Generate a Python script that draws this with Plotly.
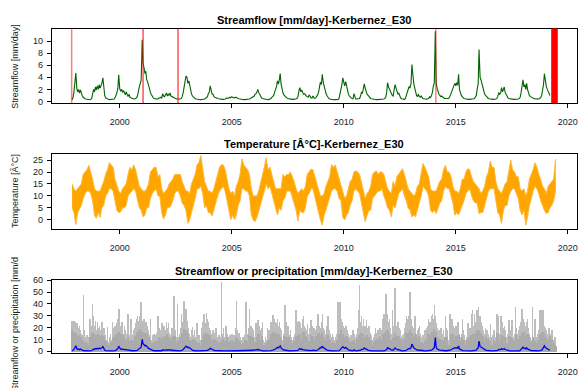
import pandas as pd
import plotly.graph_objects as go

# ---------------- data ----------------
# semi-monthly streamflow [mm/day], 1st and 15th of each month, from 1997-11-15 to 2019-03-15
streamflow = [
    0.3, 0.7, 1.6,
    3.2, 4.7, 2.1, 1.6, 2.0, 1.4, 1.9, 1.2, 0.9, 0.7, 0.5, 0.45, 0.4, 0.35, 0.3, 0.3, 0.3, 0.35, 0.5, 1.2, 2.0, 1.6, 2.4, 1.9,
    2.6, 2.0, 2.8, 2.2, 2.5, 3.0, 3.9, 2.0, 1.0, 0.6, 0.45, 0.4, 0.35, 0.3, 0.3, 0.3, 0.3, 0.3, 0.4, 0.6, 1.0, 1.4, 2.2, 4.4,
    2.1, 1.7, 2.0, 1.5, 1.8, 1.3, 1.1, 1.6, 1.0, 0.8, 1.2, 0.7, 0.6, 0.5, 0.45, 0.4, 0.4, 0.5, 0.6, 0.9, 1.5, 2.4, 3.0, 3.5,
    10.2, 6.3, 5.5, 4.6, 5.0, 3.6, 3.2, 2.5, 2.0, 1.5, 1.1, 0.8, 0.6, 0.5, 0.45, 0.4, 0.4, 0.45, 0.5, 0.6, 0.7, 0.5, 1.3, 0.9,
    0.8, 1.1, 1.4, 0.9, 1.2, 1.0, 1.4, 0.9, 0.8, 0.7, 0.6, 0.5, 0.45, 0.4, 0.4, 0.4, 0.35, 0.4, 0.5, 0.8, 1.5, 2.5, 3.6, 4.2,
    4.0, 3.0, 3.4, 2.6, 1.8, 1.3, 0.9, 0.7, 0.5, 0.45, 0.4, 0.35, 0.3, 0.3, 0.3, 0.3, 0.3, 0.3, 0.35, 0.4, 0.5, 0.6, 0.8, 1.3,
    1.6, 2.6, 1.9, 1.2, 1.2, 0.8, 0.7, 0.6, 0.5, 0.5, 0.45, 0.4, 0.4, 0.35, 0.35, 0.35, 0.35, 0.4, 0.5, 0.6, 0.5, 0.6, 0.7, 0.6,
    0.8, 0.7, 0.6, 0.6, 0.7, 0.6, 0.5, 0.5, 0.45, 0.4, 0.4, 0.35, 0.35, 0.3, 0.3, 0.3, 0.3, 0.3, 0.35, 0.4, 0.5, 0.6, 0.7, 0.8,
    0.9, 1.2, 1.3, 1.6, 2.0, 1.5, 1.1, 0.8, 0.6, 0.5, 0.45, 0.4, 0.35, 0.3, 0.3, 0.3, 0.35, 0.4, 0.5, 0.7, 0.8, 1.0, 1.6, 2.0,
    2.5, 3.4, 2.9, 3.6, 4.6, 2.9, 1.8, 1.4, 1.1, 0.9, 0.7, 0.6, 0.5, 0.45, 0.45, 0.4, 0.4, 0.35, 0.35, 0.35, 0.4, 0.45, 0.5, 0.8,
    1.8, 2.3, 1.6, 1.9, 1.5, 1.2, 1.3, 1.0, 0.9, 0.8, 0.7, 1.1, 0.7, 0.6, 0.6, 0.9, 0.6, 0.5, 0.6, 0.8, 1.1, 1.5, 2.4, 3.2,
    2.8, 4.5, 3.1, 2.4, 2.1, 1.4, 1.0, 0.7, 0.5, 0.4, 0.35, 0.3, 0.3, 0.3, 0.3, 0.3, 0.3, 0.3, 0.35, 0.5, 1.2, 2.2, 2.8, 3.9,
    3.0, 2.6, 3.3, 2.4, 2.0, 1.3, 0.9, 0.7, 0.6, 0.5, 0.45, 1.3, 0.5, 0.4, 0.4, 0.4, 0.4, 0.5, 0.9, 1.5, 1.4, 2.0, 2.9, 2.2,
    1.6, 1.2, 1.0, 0.8, 0.6, 0.5, 0.45, 0.4, 0.4, 0.35, 0.35, 0.3, 0.3, 0.3, 0.3, 0.3, 0.3, 0.3, 0.35, 0.4, 0.5, 0.7, 1.5, 3.1,
    2.4, 2.0, 1.5, 1.2, 1.0, 0.9, 1.8, 2.8, 2.2, 1.6, 1.2, 1.4, 0.9, 0.6, 0.45, 0.4, 0.35, 0.35, 0.5, 0.9, 1.5, 2.0, 2.5, 2.2,
    3.0, 6.1, 3.4, 2.9, 2.3, 1.6, 1.0, 0.8, 1.2, 0.8, 0.7, 0.9, 0.6, 0.5, 0.45, 0.4, 0.4, 0.4, 0.45, 0.5, 0.8, 0.6, 1.0, 1.5,
    2.6, 3.0, 11.6, 3.2, 2.2, 1.5, 1.2, 1.0, 0.8, 0.9, 0.7, 0.6, 0.5, 0.5, 0.5, 0.45, 0.5, 0.6, 0.9, 1.3, 1.8, 2.2, 2.4, 3.0,
    2.6, 3.1, 2.7, 4.5, 2.0, 1.4, 1.0, 0.8, 0.6, 0.5, 0.45, 0.4, 0.4, 0.35, 0.35, 0.35, 0.35, 0.4, 0.4, 0.45, 0.5, 0.7, 1.0, 2.0,
    3.0, 8.6, 4.0, 3.6, 3.0, 2.2, 1.6, 1.2, 1.0, 0.8, 0.6, 0.5, 0.45, 0.4, 0.4, 0.35, 0.35, 0.35, 0.35, 0.4, 0.5, 0.8, 1.5, 1.2,
    1.4, 2.3, 1.6, 2.0, 2.4, 1.5, 1.1, 0.8, 0.6, 0.5, 0.45, 0.4, 0.35, 0.35, 0.35, 0.35, 0.35, 0.35, 0.35, 0.4, 0.5, 0.7, 1.5, 2.6,
    3.6, 2.4, 2.8, 2.0, 3.0, 2.0, 1.4, 1.0, 0.8, 0.7, 0.6, 0.5, 0.45, 0.45, 0.4, 0.4, 0.4, 0.45, 0.5, 0.6, 1.0, 1.8, 2.8, 4.6,
    3.2, 2.5, 2.0, 1.6, 1.3, 1.0,
]

# semi-monthly highest daily precipitation [mm/day], from 1997-11-15 to 2019-06-15
precip_peak = [
    26, 24, 26,
    25, 22, 24, 12, 20, 22, 18, 15, 14, 48, 18, 12, 10, 14, 8, 12, 28, 20, 22, 40, 30, 22, 26, 18,
    25, 20, 22, 18, 17, 25, 15, 20, 12, 14, 10, 21, 8, 12, 15, 10, 25, 18, 20, 22, 18, 24, 28, 36,
    22, 18, 25, 20, 15, 22, 18, 12, 15, 32, 12, 14, 28, 14, 12, 18, 20, 24, 28, 30, 26, 30, 28, 42,
    26, 24, 28, 20, 25, 22, 18, 15, 14, 28, 10, 14, 12, 15, 10, 14, 16, 30, 20, 18, 15, 24, 20, 22,
    22, 18, 25, 20, 24, 16, 14, 12, 20, 18, 47, 18, 12, 10, 40, 12, 15, 20, 32, 25, 30, 43, 28, 36,
    26, 20, 15, 10, 12, 18, 21, 14, 18, 12, 10, 24, 10, 14, 8, 10, 20, 25, 32, 28, 24, 33, 28, 25,
    20, 18, 15, 12, 18, 16, 14, 20, 12, 10, 14, 8, 12, 59, 15, 20, 12, 18, 22, 15, 12, 10, 14, 12,
    15, 12, 14, 10, 20, 43, 18, 14, 16, 12, 10, 8, 12, 10, 14, 42, 12, 15, 20, 36, 22, 22, 20, 18,
    12, 10, 24, 20, 27, 22, 15, 18, 20, 25, 10, 8, 12, 10, 20, 15, 18, 14, 25, 22, 31, 28, 25, 20,
    24, 28, 22, 25, 20, 18, 10, 8, 15, 39, 25, 18, 22, 15, 14, 18, 12, 10, 12, 15, 20, 35, 25, 22,
    26, 24, 20, 15, 28, 30, 22, 20, 18, 23, 15, 12, 20, 27, 22, 18, 20, 15, 18, 22, 32, 25, 22, 20,
    25, 32, 20, 18, 15, 12, 22, 30, 18, 15, 12, 10, 15, 12, 10, 12, 15, 18, 42, 20, 42, 28, 25, 22,
    20, 18, 22, 20, 18, 15, 12, 10, 14, 12, 18, 15, 10, 12, 15, 20, 35, 56, 25, 30, 22, 28, 20, 22,
    27, 20, 18, 22, 16, 14, 10, 8, 12, 15, 20, 16, 14, 18, 15, 20, 18, 15, 28, 32, 30, 49, 30, 32,
    25, 28, 20, 15, 35, 18, 22, 54, 22, 18, 25, 20, 15, 18, 12, 14, 15, 20, 24, 30, 28, 25, 30, 50,
    28, 22, 20, 18, 30, 20, 15, 18, 20, 22, 15, 12, 10, 14, 12, 18, 15, 20, 22, 28, 25, 22, 30, 32,
    28, 39, 30, 24, 20, 15, 18, 14, 20, 15, 12, 18, 12, 30, 20, 18, 10, 8, 32, 25, 28, 22, 20, 18,
    22, 20, 25, 18, 15, 12, 15, 28, 18, 14, 10, 8, 12, 24, 20, 18, 20, 32, 35, 22, 32, 25, 30, 35,
    38, 28, 30, 25, 22, 18, 15, 12, 20, 18, 18, 15, 12, 23, 8, 12, 14, 18, 10, 12, 32, 30, 15, 12,
    30, 22, 25, 20, 22, 18, 10, 12, 15, 27, 18, 15, 27, 18, 12, 15, 38, 20, 15, 18, 22, 20, 25, 36,
    28, 25, 22, 18, 25, 28, 20, 15, 12, 10, 38, 12, 8, 28, 12, 10, 15, 18, 35, 25, 35, 30, 35, 22,
    20, 18, 15, 12, 20, 15, 12, 18, 10, 8, 12, 6,
]

# monthly level of the dense precipitation band [mm/day], 1997-11 to 2019-06
precip_base = [
    18, 17,
    16, 12, 14, 12, 10, 8, 7, 6, 12, 16, 15, 14,
    15, 13, 14, 12, 9, 8, 6, 8, 12, 14, 15, 17,
    15, 14, 12, 10, 12, 9, 10, 9, 13, 17, 18, 19,
    17, 16, 16, 12, 10, 7, 8, 9, 10, 12, 11, 12,
    13, 15, 12, 9, 12, 13, 8, 10, 12, 16, 19, 18,
    16, 10, 9, 11, 10, 8, 7, 6, 10, 15, 16, 15,
    14, 10, 11, 10, 8, 7, 9, 11, 9, 12, 8, 9,
    10, 8, 12, 11, 9, 6, 7, 10, 9, 14, 13, 12,
    8, 12, 15, 10, 13, 6, 7, 10, 11, 15, 17, 15,
    16, 15, 12, 6, 13, 12, 12, 10, 7, 9, 13, 14,
    15, 11, 17, 13, 12, 9, 14, 13, 10, 13, 16, 14,
    16, 12, 9, 14, 10, 7, 8, 7, 10, 15, 18, 15,
    12, 13, 11, 8, 9, 10, 7, 11, 14, 16, 15, 12,
    14, 12, 10, 6, 9, 11, 11, 12, 10, 15, 17, 18,
    15, 10, 12, 16, 13, 13, 11, 9, 11, 16, 16, 18,
    16, 12, 15, 11, 13, 8, 7, 9, 11, 15, 14, 17,
    19, 17, 12, 11, 10, 9, 12, 12, 6, 15, 15, 12,
    13, 14, 9, 12, 10, 6, 10, 12, 14, 15, 16, 18,
    18, 16, 13, 9, 12, 11, 9, 6, 10, 8, 16, 9,
    14, 13, 12, 7, 13, 12, 11, 9, 14, 11, 13, 16,
    17, 13, 15, 12, 8, 12, 9, 7, 10, 15, 17, 16,
    12, 10, 13, 11, 7, 5,
]

# monthly upper / lower envelope of daily temperature [deg C], 1997-11 to 2019-06
temp_high = [
    15, 13,
    12, 13, 14, 15, 19, 20, 21, 22.8, 20, 17, 13, 12,
    12, 12, 14, 16, 19, 21, 23.9, 23, 22, 17, 14, 12,
    11, 13, 14, 15, 19, 22, 21, 23, 21, 17, 14, 13,
    12, 12, 13, 15, 20, 21, 22, 22, 18, 19, 13, 11,
    12, 13, 15, 16, 17, 19, 19, 19, 19, 16, 14, 12,
    12, 11, 15, 17, 19, 23, 24, 26.9, 21, 16, 14, 12,
    12, 11, 13, 16, 19, 22, 23, 23, 21, 17, 13, 11,
    12, 10, 14, 16, 19, 25.5, 23, 22, 21, 19, 13, 10,
    10, 10, 12, 15, 18, 22, 26, 21, 22, 19, 15, 13,
    13, 13, 13, 19, 18, 19, 19, 20, 18, 16, 13, 11,
    12, 13, 12, 14, 19, 20, 21.2, 21, 18, 15, 12, 10,
    10, 11, 14, 16, 18, 23.2, 22, 23, 20, 17, 14, 11,
    9, 10, 13, 16, 17, 20, 20.5, 20, 19, 16, 12, 9,
    11, 12, 14, 19, 20, 20.5, 19, 20, 20, 19, 16, 13,
    12, 11, 16, 14, 18, 19, 20, 21.4, 19, 16, 13, 12,
    11, 10, 11, 14, 15, 19, 23.6, 22, 20, 18, 13, 12,
    12, 12, 14, 16, 17, 21, 22.8, 20, 20, 18, 14, 12,
    12, 11, 13, 17, 17, 20, 21.4, 21, 18, 16, 15, 14,
    13, 11, 12, 14, 18, 20, 24.6, 22, 22, 16, 13, 12,
    11, 13, 15, 16, 20, 25, 21, 20, 18, 18, 13, 12,
    13, 10, 12, 17, 19, 21, 23.9, 22, 19, 17, 14, 13,
    11, 14, 15, 16, 17, 25.3,
]
temp_low = [
    5, 3,
    -2, 3, 4, 6, 9, 11, 12, 12, 11, 8, 2, 0.6,
    3, 1, 5, 6, 10, 11, 13, 13, 12, 8, 4, 3,
    3.3, 5, 5, 6, 10, 11, 12, 13, 12, 8, 5, 4,
    1.2, 2, 5, 5, 9, 11, 12, 13, 10, 10, 3, 0.3,
    2, 5, 5, 6, 8, 11, 12, 12, 10, 7, 6, 4,
    -1.5, 0, 4, 6, 9, 13, 13, 14, 11, 5, 6, 3,
    3, 1.6, 4, 7, 10, 12, 13, 14, 12, 8, 4, 0,
    2, 0, 2, 6, 8, 13, 13, 12, 12, 10, 2, 0,
    -0.8, 1, 3, 6, 9, 12, 15, 13, 14, 10, 7, 5,
    2, 5, 4, 8, 9, 12, 12, 12, 10, 7, 4, -0.5,
    4, 3, 3, 5, 10, 11, 13, 13, 10, 6, 3, 0,
    -2.2, 2, 4, 7, 9, 12, 13, 13, 12, 9, 8, 1,
    -0.1, 2, 3, 6, 8, 12, 13, 12, 11, 7, 3, -0.8,
    2, 4, 4, 9, 10, 11, 12, 12, 13, 10, 8, 5,
    4, 1.2, 6, 5, 8, 11, 12, 13, 10, 8, 5, 4,
    1.2, 2, 1.2, 5, 7, 10, 14, 13, 12, 10, 4, 3,
    4, 2.6, 5, 7, 8, 12, 14, 13, 13, 10, 7, 1.9,
    3, 2, 4, 6, 8, 11, 12, 13, 10, 8, 7, 7,
    2.6, 3, 3, 5, 9, 12, 13, 13, 13, 8, 3, 2,
    -1.5, 4, 6, 6, 10, 12, 13, 13, 11, 9, 4, 2,
    4, -2.2, 1, 6, 9, 12, 14, 13, 11, 8, 6, 4,
    2.6, 3, 5, 6, 8, 12,
]

# dates marked in red on the streamflow panel
gap_dates = ["1997-11-08", "2001-01-15", "2002-08-08", "2014-02-10"]
gap_band = ["2019-04-05", "2019-07-22"]

x_tick_labels = ["2000", "2005", "2010", "2015", "2020"]
q_ticks = [0, 2, 4, 6, 8, 10]
t_ticks = [0, 5, 10, 15, 20, 25]
p_ticks = [0, 10, 20, 30, 40, 50, 60]

titles = [
    "Streamflow [mm/day]-Kerbernez_E30",
    "Temperature [Â°C]-Kerbernez_E30",
    "Streamflow or precipitation [mm/day]-Kerbernez_E30",
]
ylabels = [
    "Streamflow [mm/day]",
    "Temperature [Â°C]",
    "Streamflow or precipitation [mm/d",
]

# ---------------- figure ----------------
W, H = 579, 388
FONT = "Liberation Sans, Arial, Helvetica, sans-serif"

q_dates = pd.date_range("1997-11-15", periods=len(streamflow), freq="SMS")
p_dates = pd.date_range("1997-11-15", periods=len(precip_peak), freq="SMS")
t_dates = pd.date_range("1997-11-01", periods=len(temp_high), freq="MS") + pd.Timedelta(days=14)
b_dates = pd.date_range("1997-11-01", periods=len(precip_base), freq="MS") + pd.Timedelta(days=14)

DAY = 86400000

fig = go.Figure()

# panel 1 : streamflow
fig.add_trace(go.Scatter(x=q_dates, y=streamflow, mode="lines",
                         line=dict(color="#006400", width=1.1), xaxis="x", yaxis="y",
                         showlegend=False, hoverinfo="skip"))

# panel 2 : temperature envelope
t_x = list(t_dates) + list(t_dates[::-1])
t_y = list(temp_high) + list(temp_low[::-1])
fig.add_trace(go.Scatter(x=t_x, y=t_y, mode="lines", fill="toself",
                         fillcolor="#FFA500", line=dict(color="#FFB833", width=1),
                         xaxis="x2", yaxis="y2", showlegend=False, hoverinfo="skip"))

# panel 3 : precipitation + streamflow
fig.add_trace(go.Bar(x=p_dates, y=precip_peak, width=[9 * DAY] * len(precip_peak),
                     marker=dict(color="#BDBDBD", line=dict(width=0)),
                     xaxis="x3", yaxis="y3", showlegend=False, hoverinfo="skip"))
fig.add_trace(go.Bar(x=b_dates, y=precip_base, width=[30 * DAY] * len(precip_base),
                     marker=dict(color="#ABABAB", line=dict(width=0)),
                     xaxis="x3", yaxis="y3", showlegend=False, hoverinfo="skip"))
fig.add_trace(go.Scatter(x=q_dates, y=streamflow, mode="lines",
                         line=dict(color="#0000FF", width=1.3), xaxis="x3", yaxis="y3",
                         showlegend=False, hoverinfo="skip"))

# red markers on panel 1
gap_colors = ["rgba(255,0,0,0.5)", "#FF0000", "#FF0000", "rgba(255,0,0,0.5)"]
gap_widths = [1.5, 1, 1, 1.5]
for d, c, w in zip(gap_dates, gap_colors, gap_widths):
    fig.add_shape(type="line", xref="x", yref="y domain", x0=d, x1=d, y0=0, y1=1,
                  line=dict(color=c, width=w), layer="above")
fig.add_shape(type="rect", xref="x", yref="y domain", x0=gap_band[0], x1=gap_band[1],
              y0=0, y1=1, fillcolor="#FF0000", line=dict(width=0), layer="above")

# layout geometry (pixels)
x_left, x_right = 52, 577.7
panels = [(25, 101), (152.3, 229), (280.7, 355.7)]   # top, bottom
y_ranges = [[-0.28, 12.06], [-3.83, 27.76], [-1.66, 60.5]]
y_ticks = [q_ticks, t_ticks, p_ticks]
title_y = [16, 143, 272]


def py(v):
    return 1 - v / H


x_domain = [x_left / W, x_right / W]
tick_dates = [f"{t}-01-01" for t in x_tick_labels]
axis_common = dict(showline=True, mirror=True, linecolor="#000000", linewidth=1,
                   ticks="outside", ticklen=4, tickwidth=1, tickcolor="#000000",
                   showgrid=False, zeroline=False,
                   tickfont=dict(family=FONT, size=9, color="#222222"))

layout = dict(width=W, height=H, margin=dict(l=0, r=0, t=0, b=0),
              paper_bgcolor="white", plot_bgcolor="white", barmode="overlay",
              bargap=0, showlegend=False)
for i, ((top, bot), yr, yt) in enumerate(zip(panels, y_ranges, y_ticks)):
    sfx = "" if i == 0 else str(i + 1)
    layout["xaxis" + sfx] = dict(axis_common, type="date", domain=x_domain,
                                 range=["1996-12-21", "2020-05-25"],
                                 tickvals=tick_dates, ticktext=x_tick_labels,
                                 ticklabelstandoff=6, anchor="y" + sfx)
    layout["yaxis" + sfx] = dict(axis_common, domain=[py(bot), py(top)], range=yr,
                                 tickvals=yt, ticklabelstandoff=2, anchor="x" + sfx)
fig.update_layout(**layout)

for i, ((top, bot), t) in enumerate(zip(panels, titles)):
    fig.add_annotation(text=f"<b>{t}</b>", xref="paper", yref="paper",
                       x=(x_domain[0] + x_domain[1]) / 2, y=py(title_y[i]),
                       xanchor="center", yanchor="middle", showarrow=False,
                       font=dict(family=FONT, size=11, color="#000000"))

label_centers = [63, 190.5, 326]
for lab, cy in zip(ylabels, label_centers):
    fig.add_annotation(text=lab, xref="paper", yref="paper", x=15 / W, y=py(cy),
                       xanchor="center", yanchor="middle", textangle=-90, showarrow=False,
                       font=dict(family=FONT, size=9, color="#222222"))

fig.write_html("out.html", config={"displayModeBar": False},
               post_script="document.body.style.margin='0';")
